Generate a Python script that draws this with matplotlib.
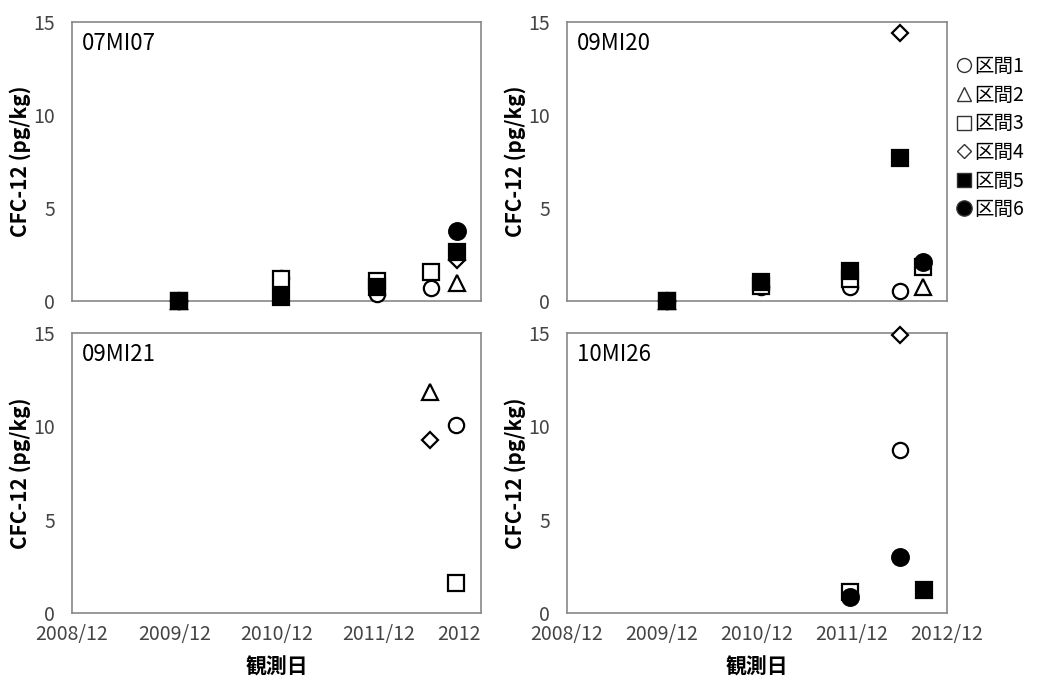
import numpy as np
import matplotlib
matplotlib.use("Agg")
import matplotlib.pyplot as plt

plt.rcParams['font.family'] = ['Noto Sans CJK JP', 'DejaVu Sans']

# x = months since 2008/12
x_ticks = [0, 12, 24, 36, 48]
x_ticklabels = ["2008/12", "2009/12", "2010/12", "2011/12", "2012/12"]
x_ticklabels_left = ["2008/12", "2009/12", "2010/12", "2011/12", "2012"]

section_names = ["区間1", "区間2", "区間3", "区間4", "区間5", "区間6"]
section_markers = ["o", "^", "s", "D", "s", "o"]
section_filled = [False, False, False, False, True, True]
section_sizes = [11, 11, 11, 8, 11, 12]

# each station: per section, list of (month, CFC-12 pg/kg)
st_07MI07 = [
    [(12.6, 0.0), (24.5, 1.22), (35.8, 0.4), (42.1, 0.68)],
    [(12.6, 0.0), (45.2, 0.95)],
    [(12.6, 0.0), (24.5, 1.17), (35.8, 1.05), (42.1, 1.58)],
    [(12.6, 0.0), (45.2, 2.2)],
    [(12.6, 0.0), (24.5, 0.23), (35.8, 0.75), (45.2, 2.65)],
    [(45.2, 3.76)],
]
st_09MI20 = [
    [(12.6, 0.0), (24.5, 0.75), (35.75, 0.75), (42.06, 0.54)],
    [(12.6, 0.0), (45.0, 0.75)],
    [(12.6, 0.0), (24.5, 0.8), (35.75, 1.2), (45.0, 1.8)],
    [(12.6, 0.0), (42.06, 14.39)],
    [(12.6, 0.0), (24.5, 1.0), (35.75, 1.6), (42.06, 7.67)],
    [(45.0, 2.1)],
]
st_09MI21 = [
    [(45.06, 10.05)],
    [(42.0, 11.85)],
    [(45.06, 1.59)],
    [(42.0, 9.27)],
    [],
    [],
]
st_10MI26 = [
    [(35.75, 1.0), (42.06, 8.73)],
    [],
    [(35.75, 1.15)],
    [(42.06, 14.9)],
    [(45.1, 1.23)],
    [(35.75, 0.85), (42.06, 3.02)],
]

stations = ["07MI07", "09MI20", "09MI21", "10MI26"]
station_data = [st_07MI07, st_09MI20, st_09MI21, st_10MI26]

fig = plt.figure(figsize=(10.62, 6.8), dpi=100)
boxes = [
    [0.0678, 0.5574, 0.3851, 0.4103],
    [0.5339, 0.5574, 0.3578, 0.4103],
    [0.0678, 0.0985, 0.3851, 0.4118],
    [0.5339, 0.0985, 0.3578, 0.4118],
]

for k, (name, data) in enumerate(zip(stations, station_data)):
    ax = fig.add_axes(boxes[k])
    for i, pts in enumerate(data):
        if not pts:
            continue
        xs = [p[0] for p in pts]
        ys = [p[1] for p in pts]
        face = "black" if section_filled[i] else "white"
        ax.plot(xs, ys, linestyle="none", marker=section_markers[i],
                ms=section_sizes[i], mfc=face, mec="black", mew=1.6,
                zorder=3 + i, clip_on=False)
    ax.set_xlim(0, 48)
    ax.set_ylim(0, 15)
    ax.set_yticks([0, 5, 10, 15])
    ax.tick_params(length=0, labelsize=14, labelcolor="#444444", pad=12)
    ax.set_ylabel("CFC-12 (pg/kg)", fontsize=15, fontweight="bold")
    # right edge of the rotated label ~41 px left of the axes
    ax.yaxis.set_label_coords(-41 / (boxes[k][2] * 1062), 0.5)
    for sp in ax.spines.values():
        sp.set_color("#888888")
        sp.set_linewidth(1.2)
    ax.text(0.025, 0.965, name, transform=ax.transAxes, ha="left", va="top",
            fontsize=16)
    ax.set_xticks(x_ticks)
    if k >= 2:
        labels = x_ticklabels_left if k == 2 else x_ticklabels
        ax.set_xticklabels(labels)
        if k == 2:
            ax.get_xticklabels()[-1].set_ha("right")
        ax.tick_params(axis="x", labelsize=14, pad=8)
        ax.set_xlabel("観測日", fontsize=15, fontweight="bold", labelpad=8)
    else:
        ax.set_xticklabels([])

    if k == 1:
        handles = []
        for i in range(6):
            face = "black" if section_filled[i] else "white"
            h, = ax.plot([], [], linestyle="none", marker=section_markers[i],
                         ms=section_sizes[i] - 1, mfc=face, mec="#333333",
                         mew=1.0, label=section_names[i])
            handles.append(h)
        ax.legend(handles=handles, loc="upper left",
                  bbox_to_anchor=(1.005, 0.905), frameon=False, fontsize=14,
                  handlelength=0.8, handletextpad=0.1, labelspacing=0.39,
                  borderaxespad=0.0)

fig.savefig("out.png", dpi=100, facecolor="white")
